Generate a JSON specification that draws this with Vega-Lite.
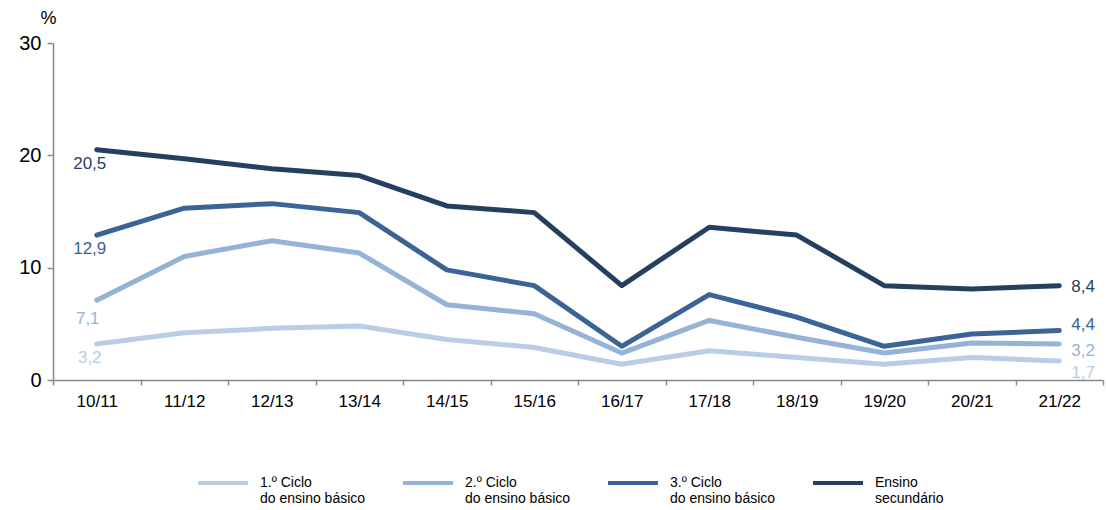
{
  "$schema": "https://vega.github.io/schema/vega-lite/v6.json",
  "width": 1050,
  "height": 337,
  "autosize": {"type": "none"},
  "padding": {"left": 53, "top": 43, "right": 3, "bottom": 130},
  "config": {
    "view": {"stroke": null},
    "font": "Liberation Sans",
    "locale": {"number": {"decimal": ",", "thousands": ".", "grouping": [3], "currency": ["", " €"]}}
  },
  "data": {
    "values": [
      {"ano": "10/11", "s": "1.º Ciclo\ndo ensino básico", "v": 3.2},
      {"ano": "11/12", "s": "1.º Ciclo\ndo ensino básico", "v": 4.2},
      {"ano": "12/13", "s": "1.º Ciclo\ndo ensino básico", "v": 4.6},
      {"ano": "13/14", "s": "1.º Ciclo\ndo ensino básico", "v": 4.8},
      {"ano": "14/15", "s": "1.º Ciclo\ndo ensino básico", "v": 3.6},
      {"ano": "15/16", "s": "1.º Ciclo\ndo ensino básico", "v": 2.9},
      {"ano": "16/17", "s": "1.º Ciclo\ndo ensino básico", "v": 1.4},
      {"ano": "17/18", "s": "1.º Ciclo\ndo ensino básico", "v": 2.6},
      {"ano": "18/19", "s": "1.º Ciclo\ndo ensino básico", "v": 2.0},
      {"ano": "19/20", "s": "1.º Ciclo\ndo ensino básico", "v": 1.4},
      {"ano": "20/21", "s": "1.º Ciclo\ndo ensino básico", "v": 2.0},
      {"ano": "21/22", "s": "1.º Ciclo\ndo ensino básico", "v": 1.7},
      {"ano": "10/11", "s": "2.º Ciclo\ndo ensino básico", "v": 7.1},
      {"ano": "11/12", "s": "2.º Ciclo\ndo ensino básico", "v": 11.0},
      {"ano": "12/13", "s": "2.º Ciclo\ndo ensino básico", "v": 12.4},
      {"ano": "13/14", "s": "2.º Ciclo\ndo ensino básico", "v": 11.3},
      {"ano": "14/15", "s": "2.º Ciclo\ndo ensino básico", "v": 6.7},
      {"ano": "15/16", "s": "2.º Ciclo\ndo ensino básico", "v": 5.9},
      {"ano": "16/17", "s": "2.º Ciclo\ndo ensino básico", "v": 2.4},
      {"ano": "17/18", "s": "2.º Ciclo\ndo ensino básico", "v": 5.3},
      {"ano": "18/19", "s": "2.º Ciclo\ndo ensino básico", "v": 3.8},
      {"ano": "19/20", "s": "2.º Ciclo\ndo ensino básico", "v": 2.4},
      {"ano": "20/21", "s": "2.º Ciclo\ndo ensino básico", "v": 3.3},
      {"ano": "21/22", "s": "2.º Ciclo\ndo ensino básico", "v": 3.2},
      {"ano": "10/11", "s": "3.º Ciclo\ndo ensino básico", "v": 12.9},
      {"ano": "11/12", "s": "3.º Ciclo\ndo ensino básico", "v": 15.3},
      {"ano": "12/13", "s": "3.º Ciclo\ndo ensino básico", "v": 15.7},
      {"ano": "13/14", "s": "3.º Ciclo\ndo ensino básico", "v": 14.9},
      {"ano": "14/15", "s": "3.º Ciclo\ndo ensino básico", "v": 9.8},
      {"ano": "15/16", "s": "3.º Ciclo\ndo ensino básico", "v": 8.4},
      {"ano": "16/17", "s": "3.º Ciclo\ndo ensino básico", "v": 3.0},
      {"ano": "17/18", "s": "3.º Ciclo\ndo ensino básico", "v": 7.6},
      {"ano": "18/19", "s": "3.º Ciclo\ndo ensino básico", "v": 5.6},
      {"ano": "19/20", "s": "3.º Ciclo\ndo ensino básico", "v": 3.0},
      {"ano": "20/21", "s": "3.º Ciclo\ndo ensino básico", "v": 4.1},
      {"ano": "21/22", "s": "3.º Ciclo\ndo ensino básico", "v": 4.4},
      {"ano": "10/11", "s": "Ensino\nsecundário", "v": 20.5},
      {"ano": "11/12", "s": "Ensino\nsecundário", "v": 19.7},
      {"ano": "12/13", "s": "Ensino\nsecundário", "v": 18.8},
      {"ano": "13/14", "s": "Ensino\nsecundário", "v": 18.2},
      {"ano": "14/15", "s": "Ensino\nsecundário", "v": 15.5},
      {"ano": "15/16", "s": "Ensino\nsecundário", "v": 14.9},
      {"ano": "16/17", "s": "Ensino\nsecundário", "v": 8.4},
      {"ano": "17/18", "s": "Ensino\nsecundário", "v": 13.6},
      {"ano": "18/19", "s": "Ensino\nsecundário", "v": 12.9},
      {"ano": "19/20", "s": "Ensino\nsecundário", "v": 8.4},
      {"ano": "20/21", "s": "Ensino\nsecundário", "v": 8.1},
      {"ano": "21/22", "s": "Ensino\nsecundário", "v": 8.4}
    ]
  },
  "encoding": {
    "x": {
      "field": "ano", "type": "nominal", "bandPosition": 0.5,
      "scale": {"type": "band", "paddingInner": 0, "paddingOuter": 0},
      "axis": {
        "title": null, "labelAngle": 0, "tickBand": "extent",
        "labelFontSize": 17, "labelColor": "#000", "labelPadding": 8,
        "domainColor": "#888", "domainWidth": 1.5, "tickColor": "#888", "tickWidth": 1.5, "tickSize": 5
      }
    },
    "y": {
      "field": "v", "type": "quantitative",
      "scale": {"domain": [0, 30], "nice": false},
      "axis": {
        "values": [0, 10, 20, 30], "grid": false,
        "title": "%", "titleAngle": 0, "titleFontSize": 18, "titleFontWeight": "normal",
        "titleX": -5, "titleY": -16, "titleAlign": "center", "titleColor": "#000",
        "labelFontSize": 20, "labelColor": "#000", "labelPadding": 6,
        "domainColor": "#888", "domainWidth": 1.5, "tickColor": "#888", "tickWidth": 1.5, "tickSize": 6
      }
    },
    "color": {
      "field": "s", "type": "nominal",
      "scale": {
        "domain": ["1.º Ciclo\ndo ensino básico", "2.º Ciclo\ndo ensino básico", "3.º Ciclo\ndo ensino básico", "Ensino\nsecundário"],
        "range": ["#b9cde5", "#95b3d7", "#3a6396", "#243f60"]
      },
      "legend": null
    }
  },
  "layer": [
    {
      "mark": {"type": "line", "strokeWidth": 5, "strokeCap": "round", "strokeJoin": "round"},
      "encoding": {
        "color": {
          "field": "s", "type": "nominal",
          "legend": {
            "title": null, "orient": "none", "legendX": 143, "legendY": 413, "direction": "horizontal",
            "symbolType": "stroke", "symbolSize": 2500, "symbolStrokeWidth": 4,
            "labelExpr": "split(datum.label, '\\n')", "labelFontSize": 14, "labelColor": "#000",
            "labelOffset": 10, "columnPadding": 29, "labelLimit": 200, "gridAlign": "all"
          }
        }
      }
    },
    {
      "transform": [{"filter": "datum.ano == '10/11' && datum.v != 7.1"}],
      "mark": {"type": "text", "fontSize": 17, "dx": -7, "dy": 14, "baseline": "middle"},
      "encoding": {"text": {"field": "v", "type": "quantitative", "format": ".1f"}}
    },
    {
      "transform": [{"filter": "datum.ano == '10/11' && datum.v == 7.1"}],
      "mark": {"type": "text", "fontSize": 17, "dx": -9, "dy": 19, "baseline": "middle"},
      "encoding": {"text": {"field": "v", "type": "quantitative", "format": ".1f"}}
    },
    {
      "transform": [{"filter": "datum.ano == '21/22' && datum.v > 8"}],
      "mark": {"type": "text", "fontSize": 17, "dx": 12, "dy": 1, "align": "left", "baseline": "middle"},
      "encoding": {"text": {"field": "v", "type": "quantitative", "format": ".1f"}}
    },
    {
      "transform": [{"filter": "datum.ano == '21/22' && datum.v == 4.4"}],
      "mark": {"type": "text", "fontSize": 17, "dx": 12, "dy": -6, "align": "left", "baseline": "middle"},
      "encoding": {"text": {"field": "v", "type": "quantitative", "format": ".1f"}}
    },
    {
      "transform": [{"filter": "datum.ano == '21/22' && datum.v == 3.2"}],
      "mark": {"type": "text", "fontSize": 17, "dx": 12, "dy": 7, "align": "left", "baseline": "middle"},
      "encoding": {"text": {"field": "v", "type": "quantitative", "format": ".1f"}}
    },
    {
      "transform": [{"filter": "datum.ano == '21/22' && datum.v == 1.7"}],
      "mark": {"type": "text", "fontSize": 17, "dx": 12, "dy": 12, "align": "left", "baseline": "middle"},
      "encoding": {"text": {"field": "v", "type": "quantitative", "format": ".1f"}}
    }
  ]
}
